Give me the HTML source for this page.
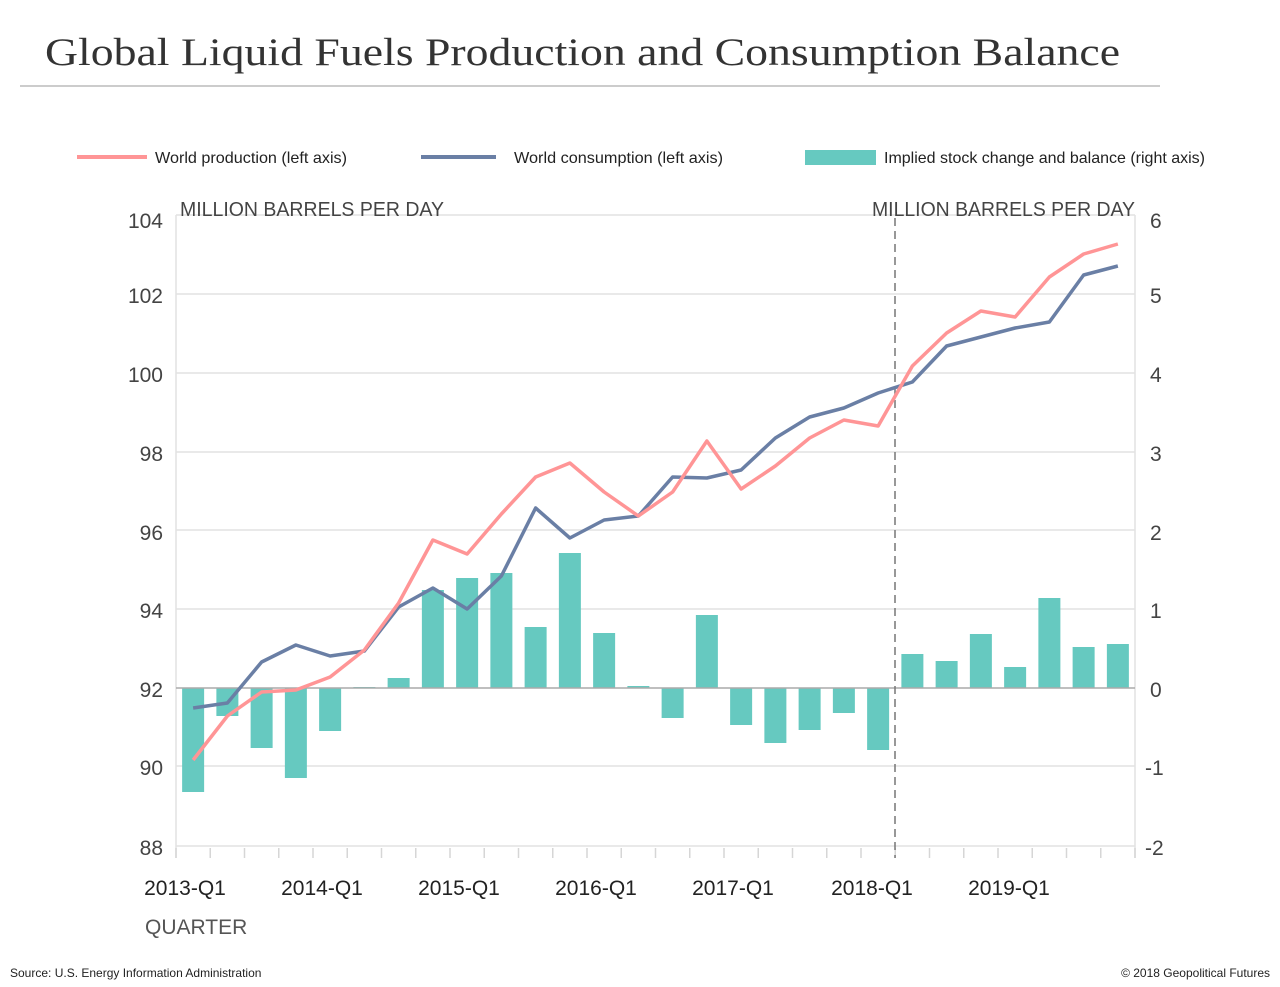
<!DOCTYPE html>
<html><head><meta charset="utf-8"><style>
body{margin:0;background:#fff;}
text{font-family:"Liberation Sans",sans-serif;}
</style></head><body>
<svg width="1280" height="982" viewBox="0 0 1280 982" xmlns="http://www.w3.org/2000/svg">
<rect width="1280" height="982" fill="#fff"/>
<text x="45" y="65" style="font-family:'Liberation Serif',serif" font-size="39" fill="#333" textLength="1075" lengthAdjust="spacingAndGlyphs">Global Liquid Fuels Production and Consumption Balance</text>
<line x1="20" y1="86" x2="1160" y2="86" stroke="#999" stroke-width="1"/>
<line x1="77" y1="157" x2="147" y2="157" stroke="#ff9596" stroke-width="4"/>
<text x="155" y="163" font-size="16" fill="#222" textLength="192" lengthAdjust="spacingAndGlyphs">World production (left axis)</text>
<line x1="421" y1="157" x2="496" y2="157" stroke="#6a7fa5" stroke-width="4"/>
<text x="514" y="163" font-size="16" fill="#222" textLength="209" lengthAdjust="spacingAndGlyphs">World consumption (left axis)</text>
<rect x="805" y="150" width="71" height="15" fill="#66c9c0"/>
<text x="884" y="163" font-size="16" fill="#222" textLength="321" lengthAdjust="spacingAndGlyphs">Implied stock change and balance (right axis)</text>
<g stroke="#e2e2e2" stroke-width="1.5">
<line x1="176" y1="215" x2="1135" y2="215"/>
<line x1="176" y1="294" x2="1135" y2="294"/>
<line x1="176" y1="373" x2="1135" y2="373"/>
<line x1="176" y1="452" x2="1135" y2="452"/>
<line x1="176" y1="530" x2="1135" y2="530"/>
<line x1="176" y1="609" x2="1135" y2="609"/>
<line x1="176" y1="766" x2="1135" y2="766"/>
<line x1="176" y1="846" x2="1135" y2="846"/>
<line x1="176" y1="215" x2="176" y2="858"/>
<line x1="1135" y1="215" x2="1135" y2="858"/>
</g>
<g stroke="#d6d6d6" stroke-width="1.5" id="ticks"></g>
<text x="180" y="216" font-size="20" fill="#444" textLength="264" lengthAdjust="spacingAndGlyphs">MILLION BARRELS PER DAY</text>
<text x="872" y="216" font-size="20" fill="#444" textLength="263" lengthAdjust="spacingAndGlyphs">MILLION BARRELS PER DAY</text>
<g font-size="21" fill="#444" text-anchor="end">
<text x="163" y="228">104</text><text x="163" y="303">102</text><text x="163" y="382">100</text>
<text x="163" y="461">98</text><text x="163" y="540">96</text><text x="163" y="618">94</text>
<text x="163" y="697">92</text><text x="163" y="775">90</text><text x="163" y="855">88</text>
</g>
<g font-size="21" fill="#444">
<text x="1150" y="228">6</text><text x="1150" y="303">5</text><text x="1150" y="382">4</text>
<text x="1150" y="461">3</text><text x="1150" y="540">2</text><text x="1150" y="618">1</text>
<text x="1150" y="697">0</text><text x="1145" y="775">-1</text><text x="1145" y="855">-2</text>
</g>
<g id="bars" fill="#66c9c0"></g>
<line x1="176" y1="688" x2="1135" y2="688" stroke="#aaa" stroke-width="1.5"/>
<line x1="895" y1="218" x2="895" y2="858" stroke="#777" stroke-width="1.5" stroke-dasharray="8,5"/>
<polyline id="cons" fill="none" stroke="#6a7fa5" stroke-width="3.5" stroke-linejoin="round"/>
<polyline id="prod" fill="none" stroke="#ff9596" stroke-width="3.5" stroke-linejoin="round"/>
<g font-size="21" fill="#222" text-anchor="middle">
<text x="185" y="895">2013-Q1</text><text x="322" y="895">2014-Q1</text><text x="459" y="895">2015-Q1</text>
<text x="596" y="895">2016-Q1</text><text x="733" y="895">2017-Q1</text><text x="872" y="895">2018-Q1</text>
<text x="1009" y="895">2019-Q1</text>
</g>
<text x="145" y="934" font-size="21" fill="#555">QUARTER</text>
<text x="10" y="977" font-size="12" fill="#222">Source: U.S. Energy Information Administration</text>
<text x="1270" y="977" font-size="12" fill="#222" text-anchor="end">© 2018 Geopolitical Futures</text>
</svg>
<script>
var ns="http://www.w3.org/2000/svg";
var prod=[760,716,692,690,677,650,603,540,554,514,477,463,492,516,492,441,489,466,438,420,426,366,333,311,317,277,254,244];
var cons=[708,703,662,645,656,651,607,588,609,576,508,538,520,516,477,478,470,438,417,408,393,382,346,337,328,322,275,266];
var bars=[792,716,748,778,731,687,678,590,578,573,627,553,633,686,718,615,725,743,730,713,750,654,661,634,667,598,647,644];
function cx(i){return 176+34.25*(i+0.5);}
var pp=[],cp=[];
var bg=document.getElementById("bars"),tg=document.getElementById("ticks");
for(var i=0;i<28;i++){
pp.push(cx(i)+","+prod[i]);cp.push(cx(i)+","+cons[i]);
var r=document.createElementNS(ns,"rect");var y=bars[i];
r.setAttribute("x",cx(i)-11);r.setAttribute("width",22);
r.setAttribute("y",Math.min(y,688));r.setAttribute("height",Math.max(Math.abs(y-688),1));
bg.appendChild(r);
}
for(var i=0;i<=28;i++){var l=document.createElementNS(ns,"line");var x=176+34.25*i;
l.setAttribute("x1",x);l.setAttribute("x2",x);l.setAttribute("y1",848);l.setAttribute("y2",858);tg.appendChild(l);}
document.getElementById("prod").setAttribute("points",pp.join(" "));
document.getElementById("cons").setAttribute("points",cp.join(" "));
</script>
</body></html>
